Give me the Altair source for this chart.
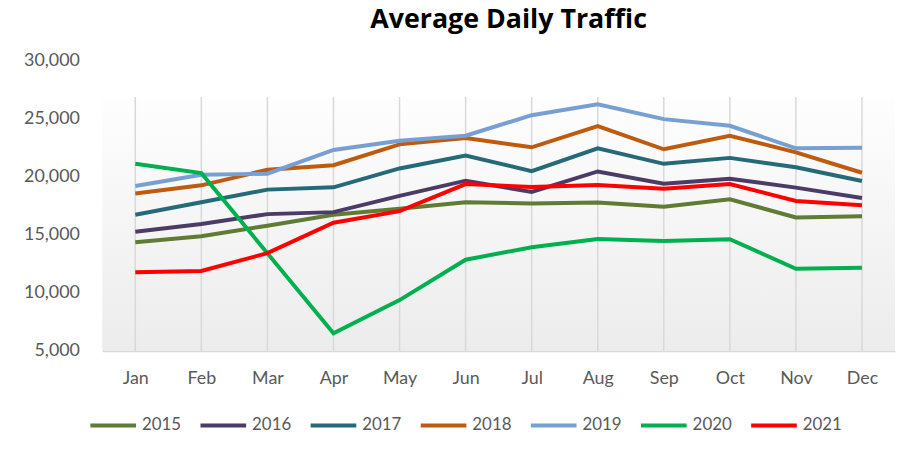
import altair as alt
import pandas as pd

months = ["Jan", "Feb", "Mar", "Apr", "May", "Jun", "Jul", "Aug", "Sep", "Oct", "Nov", "Dec"]
years = ["2015", "2016", "2017", "2018", "2019", "2020", "2021"]
v2015 = [14360, 14870, 15780, 16715, 17230, 17800, 17690, 17770, 17400, 18055, 16490, 16600]
v2016 = [15265, 15920, 16775, 16945, 18340, 19650, 18680, 20445, 19390, 19820, 19050, 18165]
v2017 = [16715, 17800, 18880, 19080, 20700, 21810, 20470, 22430, 21100, 21610, 20810, 19620]
v2018 = [18540, 19250, 20590, 20980, 22775, 23320, 22520, 24340, 22350, 23515, 22090, 20330]
v2019 = [19190, 20160, 20250, 22295, 23090, 23515, 25280, 26220, 24940, 24370, 22430, 22490]
v2020 = [21100, 20300, 13400, 6536, 9380, 12850, 13930, 14640, 14470, 14615, 12080, 12170]
v2021 = [11770, 11885, 13420, 16030, 17030, 19360, 19105, 19275, 18965, 19360, 17910, 17540]
colors = ["#5f7b34", "#4b3b66", "#246a78", "#bd5b10", "#779fd2", "#00b050", "#ff0000"]

series = [v2015, v2016, v2017, v2018, v2019, v2020, v2021]
rows = []
for y, vals in zip(years, series):
    for m, v in zip(months, vals):
        rows.append({"Month": m, "Year": y, "Traffic": v})
df = pd.DataFrame(rows)
month_df = pd.DataFrame({"Month": months})

W, H = 799, 293
TOP = 37  # plot-area frame starts below the top tick label

xscale = alt.Scale(type="point", padding=0.5, domain=months)
xaxis = alt.Axis(title=None, labelAngle=0, labelAlign="center", labelBaseline="top",
                 grid=False, domainColor="#d9d9d9", domainWidth=1.5,
                 ticks=False, tickSize=0, labelPadding=19, labelFontSize=18,
                 labelColor="#595959")

bg = alt.Chart(pd.DataFrame({"a": [0]})).mark_rect(
    color=alt.Gradient(
        gradient="linear",
        stops=[alt.GradientStop(color="#fefefe", offset=0),
               alt.GradientStop(color="#ececec", offset=1)],
        x1=0, x2=0, y1=0, y2=1,
    )
).encode(x=alt.value(0), x2=alt.value(W), y=alt.value(TOP), y2=alt.value(H))

grid = alt.Chart(month_df).mark_rule(color="#d9d9d9", strokeWidth=1.5).encode(
    x=alt.X("Month:N", sort=months, scale=xscale, axis=xaxis),
    y=alt.value(TOP), y2=alt.value(H),
)

lines = alt.Chart(df).mark_line(strokeWidth=4).encode(
    x=alt.X("Month:N", sort=months, scale=xscale, axis=xaxis),
    y=alt.Y("Traffic:Q", scale=alt.Scale(domain=[5000, 30000], nice=False),
            axis=alt.Axis(title=None, values=[5000, 10000, 15000, 20000, 25000, 30000],
                          format=",.0f", grid=False, domain=False, ticks=False, tickSize=0,
                          labelPadding=23, labelFontSize=18, labelColor="#595959")),
    color=alt.Color("Year:N", sort=years,
                    scale=alt.Scale(domain=years, range=colors),
                    legend=alt.Legend(title=None, orient="none", direction="horizontal",
                                      legendX=-14, legendY=343, symbolType="stroke",
                                      symbolSize=2116, symbolStrokeWidth=4,
                                      labelFontSize=17, labelColor="#595959",
                                      labelOffset=4, columnPadding=11)),
)

chart = alt.layer(bg, grid, lines).properties(
    width=W, height=H,
    title=alt.TitleParams("Average Daily Traffic", fontSize=27, fontWeight="bold",
                          color="#000000", anchor="middle", font="Open Sans",
                          dx=10, dy=-14),
    autosize=alt.AutoSizeParams(type="none"),
    padding={"left": 95, "top": 51, "right": 2, "bottom": 96},
).configure(font="Lato").configure_view(stroke=None)

chart.save("out.html", embed_options={"renderer": "svg", "actions": False})
